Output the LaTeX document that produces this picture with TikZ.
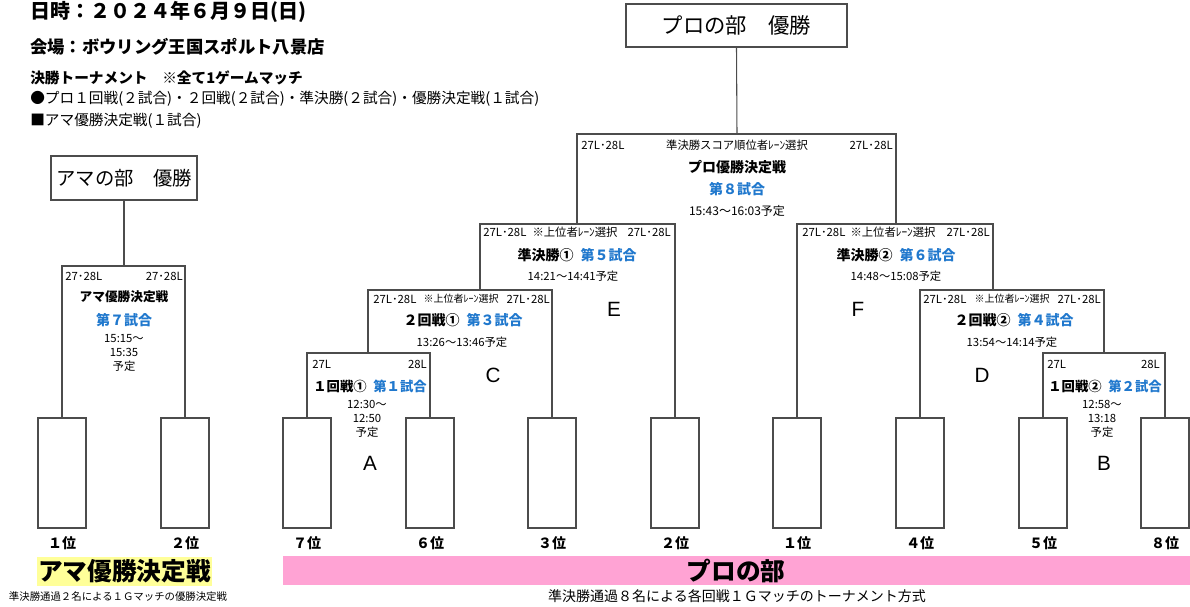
\documentclass[tikz,border=0pt]{standalone}
\usepackage{fontspec}
\setmainfont{Noto Sans CJK JP}
\newfontfamily\latinfont{Liberation Sans}
\usepackage{tikz}
\definecolor{gameblue}{RGB}{32,120,205}
\definecolor{amayellow}{RGB}{255,255,153}
\definecolor{propink}{RGB}{255,163,212}
\newcommand{\fsz}[1]{\fontsize{#1}{#1}\selectfont}

\begin{document}
\begin{tikzpicture}[x=0.75pt,y=-0.75pt,
	line/.style={draw=black!70,line width=0.8pt},
	slot/.style={line,minimum width=36pt,minimum height=82.5pt,inner sep=0pt},
	titlebox/.style={line,inner sep=0pt},
	head/.style={anchor=west,inner sep=0pt},
	rank/.style={inner sep=0pt,font=\bfseries\fsz{10.5}},
	lane/.style={inner sep=0pt,font=\fsz{8.5}},
	small/.style={inner sep=0pt,font=\fsz{7.5}},
	mname/.style={inner sep=0pt,font=\bfseries\fsz{10.5}},
	mno/.style={inner sep=0pt,text=gameblue,font=\bfseries\fsz{10.5}},
	mtime/.style={inner sep=0pt,align=center,font=\fontsize{8.5}{10.5}\selectfont},
	tag/.style={inner sep=0pt,font=\latinfont\fsz{15.5}},
	note/.style={inner sep=0pt}]
	\useasboundingbox (0,0) rectangle (1190,607);

	\node[head,font=\bfseries\fsz{15}] (date) at (30,12) {日時：２０２４年６月９日(日)};
	\node[head,font=\bfseries\fsz{13}] (venue) at (30,47) {会場：ボウリング王国スポルト八景店};
	\node[head,font=\bfseries\fsz{11}] (final) at (30,78) {決勝トーナメント　※全て1ゲームマッチ};
	\node[head,font=\fsz{11}] (prorule) at (30,99) {●プロ１回戦(２試合)・２回戦(２試合)・準決勝(２試合)・優勝決定戦(１試合)};
	\node[head,font=\fsz{11}] (amarule) at (30,121) {■アマ優勝決定戦(１試合)};

	\node[titlebox,minimum width=165.75pt,minimum height=32.25pt,font=\fsz{16}] (protitle) at (736.5,25.5) {プロの部　優勝};
	\node[titlebox,minimum width=109.5pt,minimum height=33pt,font=\fsz{14.5}] (amatitle) at (124,178) {アマの部　優勝};

	\foreach \nm/\xx/\rk in {a1/62/１,a2/185/２,s7/307/７,s6/430/６,s3/552/３,s2/675/２,s1/797/１,s4/920/４,s5/1043/５,s8/1165/８}{
		\node[slot] (\nm) at (\xx,473) {};
		\node[rank] (r\nm) at (\xx,543) {\rk 位};
	}

	\coordinate (m1) at (368,353);
	\coordinate (m2) at (1104,353);
	\coordinate (m3) at (480,290);
	\coordinate (m4) at (993,290);
	\coordinate (m5) at (577,224);
	\coordinate (m6) at (896,224);
	\coordinate (m7) at (124,266);
	\coordinate (m8) at (737,134);

	\draw[line] (a1.north) |- (m7) -| (a2.north);
	\draw[line] (m7) -- (amatitle.south);
	\draw[line] (s7.north) |- (m1) -| (s6.north);
	\draw[line] (m1) |- (m3) -| (s3.north);
	\draw[line] (m3) |- (m5) -| (s2.north);
	\draw[line] (m5) |- (m8) -| (m6);
	\draw[line] (s1.north) |- (m6) -| (m4);
	\draw[line] (s4.north) |- (m4) -| (m2);
	\draw[line] (s5.north) |- (m2) -| (s8.north);
	\draw[line] (m8) -- (protitle.south);

	\node[lane,anchor=west] (m7a) at (65,276) {27･28L};
	\node[lane,anchor=east] (m7b) at (183,276) {27･28L};
	\node[mname,font=\bfseries\fsz{9.5}] (m7n) at (124,297) {アマ優勝決定戦};
	\node[mno] (m7g) at (124,320) {第７試合};
	\node[mtime] (m7t) at (124,353) {15:15～\\15:35\\予定};

	\node[lane,anchor=west] (m8a) at (581,145) {27L･28L};
	\node[lane] (m8b) at (737,145) {準決勝スコア順位者ﾚｰﾝ選択};
	\node[lane,anchor=east] (m8c) at (893,145) {27L･28L};
	\node[mname] (m8n) at (737,167) {プロ優勝決定戦};
	\node[mno] (m8g) at (737,189) {第８試合};
	\node[mtime,font=\fsz{9}] (m8t) at (737,211) {15:43～16:03予定};

	\node[lane,anchor=west] (m5a) at (483,232) {27L･28L};
	\node[lane] (m5b) at (575,232) {※上位者ﾚｰﾝ選択};
	\node[lane,anchor=east] (m5c) at (671,232) {27L･28L};
	\node[mname] (m5n) at (577,255) {準決勝①\enspace\textcolor{gameblue}{第５試合}};
	\node[mtime] (m5t) at (573,276) {14:21～14:41予定};

	\node[lane,anchor=west] (m6a) at (802,232) {27L･28L};
	\node[lane] (m6b) at (893,232) {※上位者ﾚｰﾝ選択};
	\node[lane,anchor=east] (m6c) at (990,232) {27L･28L};
	\node[mname] (m6n) at (896,255) {準決勝②\enspace\textcolor{gameblue}{第６試合}};
	\node[mtime] (m6t) at (896,276) {14:48～15:08予定};

	\node[lane,anchor=west] (m3a) at (373,299) {27L･28L};
	\node[small] (m3b) at (461,299) {※上位者ﾚｰﾝ選択};
	\node[lane,anchor=east] (m3c) at (550,299) {27L･28L};
	\node[mname] (m3n) at (463,320) {２回戦①\enspace\textcolor{gameblue}{第３試合}};
	\node[mtime] (m3t) at (462,342) {13:26～13:46予定};

	\node[lane,anchor=west] (m4a) at (923,299) {27L･28L};
	\node[small] (m4b) at (1012,299) {※上位者ﾚｰﾝ選択};
	\node[lane,anchor=east] (m4c) at (1101,299) {27L･28L};
	\node[mname] (m4n) at (1014,320) {２回戦②\enspace\textcolor{gameblue}{第４試合}};
	\node[mtime] (m4t) at (1012,342) {13:54～14:14予定};

	\node[lane,anchor=west] (m1a) at (312,364) {27L};
	\node[lane,anchor=east] (m1b) at (427,364) {28L};
	\node[mname,font=\bfseries\fsz{10}] (m1n) at (370,386) {１回戦①\enspace\textcolor{gameblue}{第１試合}};
	\node[mtime] (m1t) at (367,419) {12:30～\\12:50\\予定};

	\node[lane,anchor=west] (m2a) at (1047,364) {27L};
	\node[lane,anchor=east] (m2b) at (1160,364) {28L};
	\node[mname,font=\bfseries\fsz{10}] (m2n) at (1105,386) {１回戦②\enspace\textcolor{gameblue}{第２試合}};
	\node[mtime] (m2t) at (1102,419) {12:58～\\13:18\\予定};

	\node[tag] (ta) at (370,463) {A};
	\node[tag] (tb) at (1104,463) {B};
	\node[tag] (tc) at (493,375) {C};
	\node[tag] (td) at (982,375) {D};
	\node[tag] (te) at (614,309) {E};
	\node[tag] (tf) at (858,309) {F};

	\fill[amayellow] (37,557) rectangle (212,586);
	\node[note,font=\bfseries\fsz{18.5}] (amaband) at (124.5,571.5) {アマ優勝決定戦};
	\fill[propink] (283,556) rectangle (1190,585);
	\node[note,font=\bfseries\fsz{18.5}] (proband) at (736,570.5) {プロの部};
	\node[note,font=\fsz{7.8}] (amanote) at (118,597) {準決勝通過２名による１Ｇマッチの優勝決定戦};
	\node[note,font=\fsz{10.5}] (pronote) at (737,596) {準決勝通過８名による各回戦１Ｇマッチのトーナメント方式};
\end{tikzpicture}
\end{document}
